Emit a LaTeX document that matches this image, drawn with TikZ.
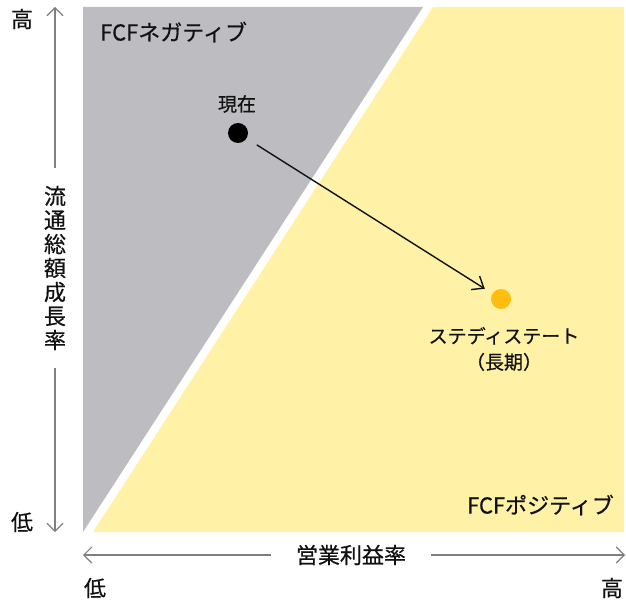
\documentclass[tikz,border=0pt]{standalone}
\usepackage{fontspec}
\setmainfont{Noto Sans CJK JP}[FakeBold=0.5]
\usetikzlibrary{arrows.meta}
\definecolor{negc}{HTML}{BDBDC1}
\definecolor{posc}{HTML}{FFF2A6}
\definecolor{axisc}{HTML}{7F7F7F}
\definecolor{dotc}{HTML}{FFBE0F}
\definecolor{txtc}{HTML}{111111}
\tikzset{
  axisline/.style={draw=axisc, line width=1.1pt, -{Straight Barb[length=8pt,width=16pt,line width=1.1pt]}},
  lbl/.style={inner sep=0pt, text=txtc},
  big/.style={font=\fontsize{22}{24}\selectfont},
  mid/.style={font=\fontsize{19}{26}\selectfont},
  dot/.style={circle, minimum size=20pt, inner sep=0pt},
  moveline/.style={draw=txtc, line width=1.4pt, -{Straight Barb[length=10pt,width=16pt,line width=1.4pt]}, shorten <=12pt, shorten >=9pt}
}
\begin{document}
\begin{tikzpicture}[x=1pt, y=-1pt]
\useasboundingbox (0,0) rectangle (626,601);
% regions
\fill[negc] (83,7) -- (423,7) -- (83,532) -- cycle;
\fill[posc] (433,7) -- (624,7) -- (624,532) -- (93,532) -- cycle;
% region labels
\node[lbl, big, anchor=west] (neg) at (100,32) {FCFネガティブ};
\node[lbl, big, anchor=east] (pos) at (614,505) {FCFポジティブ};
% y axis
\coordinate (ytop) at (55,7);
\coordinate (ybot) at (55,532);
\node[lbl, big, align=center, inner ysep=18pt] (ylab) at (55,268) {流\\通\\総\\額\\成\\長\\率};
\draw[axisline] (ylab.north) -- (ytop);
\draw[axisline] (ylab.south) -- (ybot);
\node[lbl, big] (yhigh) at (22,19) {高};
\node[lbl, big] (ylow) at (22,522) {低};
% x axis
\coordinate (xleft) at (83,555);
\coordinate (xright) at (625,555);
\node[lbl, big, inner xsep=25pt] (xlab) at (351,555) {営業利益率};
\draw[axisline] (xlab.west) -- (xleft);
\draw[axisline] (xlab.east) -- (xright);
\node[lbl, big] (xlow) at (95,588) {低};
\node[lbl, big] (xhigh) at (612,588) {高};
% points
\node[dot, fill=black] (now) at (238,133) {};
\node[lbl, mid] (nowlab) at (237,104) {現在};
\node[dot, fill=dotc] (steady) at (501,299) {};
\node[lbl, mid, align=center] (steadylab) at (504,349) {ステディステート\\（長期）};
\draw[moveline] (now) -- (steady);
\end{tikzpicture}
\end{document}
